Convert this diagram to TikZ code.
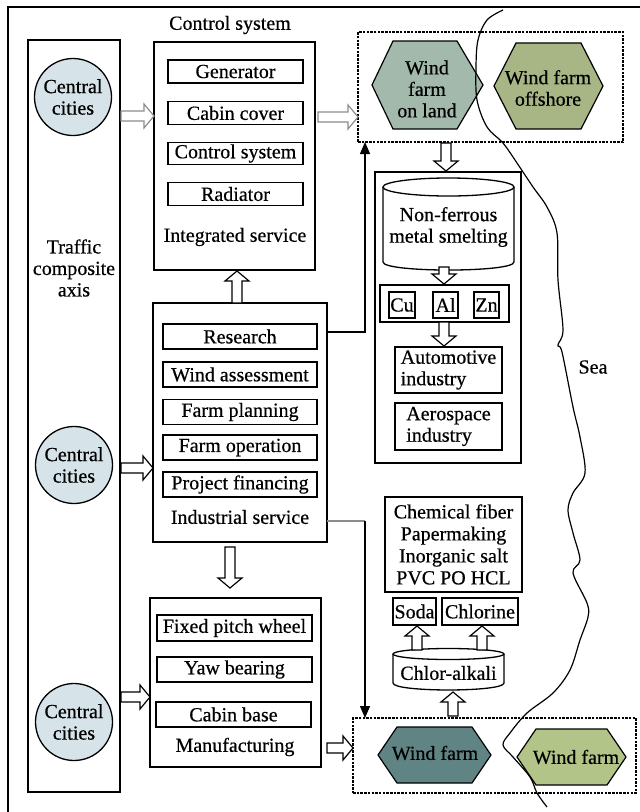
\documentclass[tikz,border=0pt]{standalone}
\usepackage{fontspec}
\setmainfont{Liberation Serif}[UprightFeatures={FakeBold=0.5}]
\usetikzlibrary{calc,arrows.meta}
\definecolor{circfill}{RGB}{214,228,234}
\definecolor{hexA}{RGB}{162,185,172}
\definecolor{hexB}{RGB}{168,181,132}
\definecolor{hexC}{RGB}{96,131,131}
\definecolor{hexD}{RGB}{178,196,136}
\definecolor{arrgray}{RGB}{140,140,140}
% hollow block arrow from #2 to #3
\newcommand\barrow[3][black]{%
  \draw[blk,draw=#1] let \p1=(#2), \p2=(#3),
    \n1={atan2(\y2-\y1,\x2-\x1)}, \n2={veclen(\x2-\x1,\y2-\y1)} in
    [shift={(\p1)}, rotate=\n1]
    (0pt,-5pt) -- ({\n2*1pt-10pt},-5pt) -- ({\n2*1pt-10pt},-12pt) -- ({\n2*1pt},0pt)
    -- ({\n2*1pt-10pt},12pt) -- ({\n2*1pt-10pt},5pt) -- (0pt,5pt) -- cycle;}
\begin{document}
\begin{tikzpicture}[x=1pt,y=-1pt,
  every node/.style={font=\fontsize{20}{21.5}\selectfont, inner sep=0pt, outer sep=0pt},
  box/.style={draw, line width=1.7pt},
  ibox/.style={draw, line width=1.5pt, align=center},
  lbl/.style={align=center},
  circ/.style={circle, draw, line width=1.3pt, fill=circfill, align=center, minimum size=77pt},
  dbox/.style={draw, line width=1.8pt, dash pattern=on 2.5pt off 1.2pt},
  hex/.style={draw, line width=1.2pt},
  conn/.style={line width=1.3pt},
  blk/.style={line width=1.2pt, fill=white, line join=miter}]
\useasboundingbox (0,0) rectangle (640,812);
\fill[white] (0,0) rectangle (640,812);
% outer frame
\draw[line width=1.6pt] (8,812) -- (8,7) -- (640,7);

% traffic axis
\node[box, minimum width=92pt, minimum height=752pt] (axis) at (74,416) {};
\node[lbl] (axislbl) at (74,268) {Traffic\\composite\\axis};
\node[circ] (c1) at (73,97) {Central\\cities};
\node[circ] (c2) at (74,465) {Central\\cities};
\node[circ] (c3) at (74,722) {Central\\cities};

% integrated service
\node[lbl] (title) at (230,25) {Control system};
\node[box, minimum width=161pt, minimum height=228pt] (integ) at (234.5,156) {};
\node[ibox, minimum width=135pt, minimum height=23pt] (gen) at (235.5,71.5) {Generator};
\node[ibox, minimum width=135pt, minimum height=23pt] (cab) at (235.5,113) {Cabin cover};
\node[ibox, minimum width=135pt, minimum height=22pt] (csys) at (235.5,153.5) {Control system};
\node[ibox, minimum width=135pt, minimum height=23pt] (rad) at (235.5,194) {Radiator};
\node[lbl] (integlbl) at (235,237) {Integrated service};

% industrial service
\node[box, minimum width=174pt, minimum height=239pt] (indus) at (240,422.5) {};
\node[ibox, minimum width=154pt, minimum height=25pt] (res) at (240,336.5) {Research};
\node[ibox, minimum width=154pt, minimum height=25pt] (wass) at (240,374.5) {Wind assessment};
\node[ibox, minimum width=154pt, minimum height=25pt] (fplan) at (240,412) {Farm planning};
\node[ibox, minimum width=154pt, minimum height=25pt] (fop) at (240,447.5) {Farm operation};
\node[ibox, minimum width=154pt, minimum height=25pt] (pfin) at (240,484.5) {Project financing};
\node[lbl] (induslbl) at (240,517) {Industrial service};

% manufacturing
\node[box, minimum width=171pt, minimum height=169pt] (manu) at (235.5,682.5) {};
\node[ibox, minimum width=155pt, minimum height=26pt] (fpw) at (234.5,628) {Fixed pitch wheel};
\node[ibox, minimum width=155pt, minimum height=25pt] (yaw) at (234.5,669.5) {Yaw bearing};
\node[ibox, minimum width=155pt, minimum height=25pt] (cbase) at (233.5,714.5) {Cabin base};
\node[lbl] (manulbl) at (235,747) {Manufacturing};

% top dashed box with wind farms
\node[dbox, minimum width=265pt, minimum height=110pt] (topdash) at (490.5,87) {};
\draw[hex, fill=hexA] (372,85) -- (393,41) -- (457,41) -- (483,85) -- (457,129) -- (393,129) -- cycle;
\node[lbl] (hexAt) at (427,89) {Wind\\farm\\on land};
\draw[hex, fill=hexB] (494,86) -- (516,43) -- (581,43) -- (603,86) -- (581,129) -- (516,129) -- cycle;
\node[lbl] (hexBt) at (548,88) {Wind farm\\offshore};

% metal box
\node[box, minimum width=146pt, minimum height=291pt] (metal) at (448,317.5) {};
\draw[line width=1.3pt, fill=white] (383,187) -- (383,262) .. controls (383,272.7) and (514,272.7) .. (514,262) -- (514,187);
\draw[line width=1.3pt, fill=white] (448.5,187) ellipse [x radius=65.5pt, y radius=9pt];
\node[lbl] (smelt) at (448.5,227) {Non-ferrous\\metal smelting};
\node[box, minimum width=129pt, minimum height=37pt] (metals) at (444.5,303.5) {};
\node[ibox, minimum width=26pt, minimum height=26pt] (cu) at (402,305) {Cu};
\node[ibox, minimum width=25pt, minimum height=26pt] (al) at (445.5,305) {Al};
\node[ibox, minimum width=25pt, minimum height=26pt] (zn) at (486.5,305) {Zn};
\node[box, minimum width=107pt, minimum height=46pt, align=left] (auto) at (448.5,370) {Automotive\\industry};
\node[box, minimum width=107pt, minimum height=47pt, align=left] (aero) at (448.5,426.5) {Aerospace\\industry};

% chemicals
\node[box, minimum width=137pt, minimum height=95pt, align=center, font=\fontsize{20}{22}\selectfont] (chem) at (453.5,544.5) {Chemical fiber\\Papermaking\\Inorganic salt\\PVC PO HCL};
\node[ibox, minimum width=43pt, minimum height=27pt] (soda) at (414.5,611.5) {Soda};
\node[ibox, minimum width=76pt, minimum height=27pt] (chlor) at (480,611.5) {Chlorine};
\draw[line width=1.3pt, fill=white] (393,654) -- (393,683) .. controls (393,692.3) and (504,692.3) .. (504,683) -- (504,654);
\draw[line width=1.3pt, fill=white] (448.5,654) ellipse [x radius=55.5pt, y radius=5.5pt];
\node[lbl] (calk) at (448.5,673) {Chlor-alkali};

% bottom dashed box with wind farms
\node[dbox, minimum width=283pt, minimum height=75pt] (botdash) at (494.5,755.5) {};
\draw[hex, fill=hexC] (378,755) -- (397,727) -- (472,727) -- (491,755) -- (472,783) -- (397,783) -- cycle;
\node[lbl] (hexCt) at (435,753) {Wind farm};
\draw[hex, fill=hexD] (517,757) -- (536,729) -- (607,729) -- (626,757) -- (607,785) -- (536,785) -- cycle;
\node[lbl] (hexDt) at (576,757) {Wind farm};

% sea line
\draw[line width=1.2pt] plot[smooth, tension=0.55] coordinates {(503,10) (487,20) (478,40) (476,67) (477,100) (487,127) (503,143) (517,163) (533,187) (547,207) (557,233) (558,280) (563,330) (558,345) (562,352) (573,407) (580,437) (585,473) (573,493) (568,510) (573,533) (580,560) (573,573) (587,603) (588,617) (580,640) (570,670) (553,693) (527,713) (510,733) (503,745) (513,757) (530,777) (537,793) (547,807)};
\node[lbl] (sea) at (593,367) {Sea};

% block arrows
\coordinate (a1s) at (121,116); \coordinate (a1e) at (integ.west |- a1s);
\barrow[arrgray]{a1s}{a1e}
\coordinate (a2s) at (318,117); \coordinate (a2e) at (topdash.west |- a2s);
\barrow[arrgray]{a2s}{a2e}
\coordinate (a3s) at (121,468); \coordinate (a3e) at (indus.west |- a3s);
\barrow{a3s}{a3e}
\coordinate (a4s) at (121,697); \coordinate (a4e) at (manu.west |- a4s);
\barrow{a4s}{a4e}
\coordinate (a5s) at (327,748); \coordinate (a5e) at (botdash.west |- a5s);
\barrow{a5s}{a5e}
\coordinate (a6s) at (237,303); \coordinate (a6e) at (237,271);
\barrow{a6s}{a6e}
\coordinate (a7s) at (230,547); \coordinate (a7e) at (230,588);
\barrow{a7s}{a7e}
\coordinate (a8s) at (446,143); \coordinate (a8e) at (446,171);
\barrow{a8s}{a8e}
\coordinate (a9s) at (444,267); \coordinate (a9e) at (444,284);
\barrow{a9s}{a9e}
\coordinate (a10s) at (444,322); \coordinate (a10e) at (444,346);
\barrow{a10s}{a10e}
\coordinate (a11s) at (417,650); \coordinate (a11e) at (417,626);
\barrow{a11s}{a11e}
\coordinate (a12s) at (482,650); \coordinate (a12e) at (482,626);
\barrow{a12s}{a12e}
\coordinate (a13s) at (453,716); \coordinate (a13e) at (453,692);
\barrow{a13s}{a13e}

% connector lines
\draw[conn, -{Triangle[length=12pt,width=10pt]}] (indus.east |- 0,332) -| (topdash.south -| 365,0);
\coordinate (j2) at (365,521);
\draw[conn, arrgray] (indus.east |- j2) -- (j2);
\draw[conn, -{Triangle[length=12pt,width=10pt]}] (j2) -- (botdash.north -| j2);
\end{tikzpicture}
\end{document}
